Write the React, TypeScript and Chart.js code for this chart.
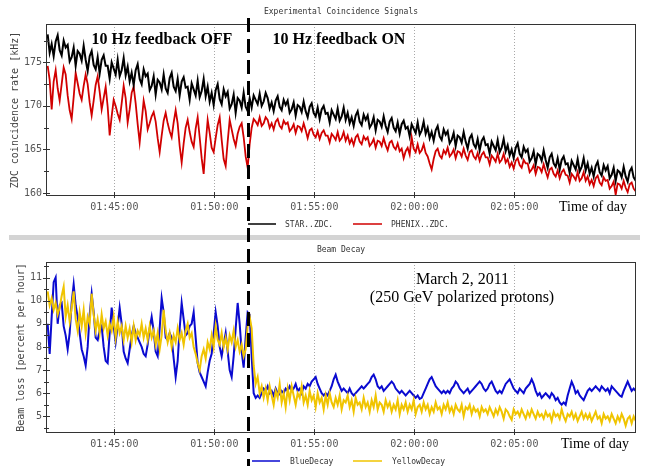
import React, { useEffect, useRef } from 'react';
import { Chart, registerables } from 'chart.js';

Chart.register(...registerables);

// ---- time axis (seconds of the day) ----
const sampleStart = 6100; // 01:41:40
const sampleStep = 6; // seconds between samples
const timeMin = 6095; // 01:41:35
const timeMax = 7865; // 02:11:05
const timeTicks = [6300, 6600, 6900, 7200, 7500];
const feedbackOnTime = 6702; // 01:51:42

// ---- top panel: Experimental Coincidence Signals [kHz] ----
const rateTicks = [160, 162.5, 165, 167.5, 170, 172.5, 175, 177.5];
const rateLabels = [160, 165, 170, 175];

const starZdc = [
  178.2, 176.1, 177.1, 175.7, 177.4, 178.1, 176.4, 175.8, 177.5, 176.7,
  177.0, 175.1, 175.6, 176.7, 174.6, 176.3, 176.0, 175.2, 176.9, 175.3,
  174.0, 175.7, 176.3, 174.7, 174.2, 175.6, 173.7, 175.3, 175.8, 174.6,
  174.6, 173.1, 175.0, 174.3, 173.6, 175.3, 173.4, 174.1, 175.5, 173.5,
  174.5, 172.8, 173.8, 172.4, 174.1, 174.8, 173.1, 172.5, 174.2, 173.4,
  173.7, 171.8, 172.3, 173.4, 171.3, 173.0, 172.7, 171.9, 173.6, 172.0,
  171.5, 173.2, 173.8, 172.2, 171.7, 173.1, 171.2, 172.8, 173.3, 172.1,
  172.2, 170.7, 172.6, 171.9, 171.2, 172.9, 171.0, 171.7, 173.1, 171.1,
  172.2, 170.5, 171.5, 170.1, 171.8, 172.5, 170.8, 170.2, 171.9, 171.1,
  171.6, 169.7, 170.2, 171.3, 169.2, 170.9, 170.6, 169.8, 171.5, 169.9,
  169.4, 170.9, 169.8, 171.2, 170.7, 170.2, 171.4, 170.0, 170.5, 171.5,
  170.9, 169.7, 170.4, 169.4, 170.6, 171.1, 169.9, 169.5, 170.7, 170.1,
  170.6, 169.2, 169.6, 170.4, 168.9, 170.1, 169.9, 169.3, 170.5, 169.4,
  168.7, 169.9, 170.3, 169.2, 168.8, 169.8, 168.5, 169.6, 170.0, 169.1,
  169.2, 168.1, 169.5, 169.0, 168.5, 169.7, 168.3, 168.8, 169.8, 168.4,
  169.2, 168.0, 168.7, 167.7, 168.9, 169.4, 168.2, 167.8, 169.0, 168.4,
  168.9, 167.5, 167.9, 168.7, 167.2, 168.4, 168.2, 167.6, 168.8, 167.7,
  167.0, 168.2, 168.6, 167.5, 167.1, 168.1, 166.8, 167.9, 168.3, 167.4,
  167.6, 166.5, 167.9, 167.4, 166.9, 168.1, 166.7, 167.2, 168.2, 166.8,
  167.5, 166.3, 167.0, 166.0, 167.2, 167.7, 166.5, 166.1, 167.3, 166.7,
  167.1, 165.7, 166.1, 166.9, 165.4, 166.6, 166.4, 165.8, 167.0, 165.9,
  165.1, 166.3, 166.7, 165.6, 165.2, 166.2, 164.9, 166.0, 166.4, 165.5,
  165.6, 164.5, 165.9, 165.4, 164.9, 166.1, 164.7, 165.2, 166.2, 164.8,
  165.5, 164.3, 165.0, 164.0, 165.2, 165.7, 164.5, 164.1, 165.3, 164.7,
  165.0, 163.6, 164.0, 164.8, 163.3, 164.5, 164.3, 163.7, 164.9, 163.8,
  162.9, 164.1, 164.5, 163.4, 163.0, 164.0, 162.7, 163.8, 164.2, 163.3,
  163.4, 162.3, 163.7, 163.2, 162.7, 163.9, 162.5, 163.0, 164.0, 162.6,
  163.4, 162.2, 162.9, 161.9, 163.1, 163.6, 162.4, 162.0, 163.2, 162.6,
  163.1, 161.7, 162.1, 162.9, 161.4, 162.6, 162.4, 161.8, 163.0, 161.9,
  161.3, 162.5, 162.9, 161.8, 161.4,
];

const phenixZdc = [
  174.6, 173.0, 169.6, 172.8, 174.1, 172.0, 170.6, 172.5, 174.4, 173.6,
  171.2, 169.5, 168.5, 171.0, 173.8, 172.6, 171.4, 170.7, 172.3, 173.6,
  172.5, 170.4, 168.9, 170.6, 172.4, 173.4, 171.6, 169.6, 170.9, 172.2,
  169.9, 166.6, 168.8, 170.7, 170.0, 169.1, 168.4, 170.3, 172.3, 170.9,
  168.1, 169.6, 171.5, 172.2, 170.3, 167.9, 165.8, 168.2, 170.6, 169.4,
  167.3, 168.0, 168.8, 169.3, 168.2, 166.3, 164.7, 166.6, 168.3, 169.2,
  168.0, 167.1, 166.4, 168.1, 169.5, 168.0, 165.4, 163.5, 165.7, 167.5,
  168.4, 167.0, 165.9, 165.3, 167.4, 168.7, 166.4, 164.0, 162.2, 165.6,
  168.4, 166.9, 165.2, 164.7, 166.3, 167.8, 168.7, 166.1, 163.9, 163.1,
  165.9, 168.4, 167.3, 166.2, 165.4, 166.8, 167.6, 168.0, 166.4, 164.2,
  162.9, 165.6, 167.5, 168.5, 168.2, 167.8, 168.7, 167.7, 168.0, 168.7,
  168.4, 167.5, 168.0, 167.3, 168.2, 168.5, 167.7, 167.4, 168.3, 167.9,
  168.1, 167.1, 167.4, 167.9, 166.9, 167.7, 167.6, 167.1, 168.0, 167.2,
  166.3, 167.2, 167.4, 166.7, 166.4, 167.1, 166.2, 166.9, 167.2, 166.6,
  166.6, 165.8, 166.8, 166.5, 166.1, 167.0, 166.0, 166.3, 167.0, 166.0,
  166.6, 165.7, 166.2, 165.5, 166.4, 166.7, 165.9, 165.6, 166.5, 166.1,
  166.4, 165.4, 165.7, 166.2, 165.2, 166.0, 165.9, 165.4, 166.3, 165.5,
  164.9, 165.8, 166.0, 165.3, 165.0, 165.7, 164.8, 165.1, 164.0, 164.8,
  165.2, 164.4, 166.4, 165.1, 164.7, 165.6, 164.6, 164.9, 165.6, 164.6,
  164.2, 163.4, 162.7, 163.9, 164.8, 165.1, 164.3, 164.0, 164.9, 164.5,
  165.2, 164.2, 164.5, 165.0, 164.0, 164.8, 164.7, 164.2, 165.1, 164.3,
  163.8, 164.7, 164.9, 164.2, 163.9, 164.6, 163.7, 164.4, 164.7, 164.1,
  164.1, 163.3, 164.3, 164.0, 163.6, 164.5, 163.5, 163.8, 164.5, 163.5,
  163.9, 163.0, 163.5, 162.8, 163.7, 164.0, 163.2, 162.9, 163.8, 163.4,
  163.4, 162.4, 162.7, 163.2, 162.2, 163.0, 162.9, 162.4, 163.3, 162.5,
  161.8, 162.7, 162.9, 162.2, 161.9, 162.6, 161.7, 162.4, 162.7, 162.1,
  162.0, 161.2, 162.2, 161.9, 161.5, 162.4, 161.4, 161.7, 162.4, 161.4,
  161.9, 161.0, 161.5, 160.8, 161.7, 162.0, 161.2, 160.9, 161.8, 161.4,
  161.5, 160.5, 160.8, 161.3, 159.8, 161.1, 161.0, 160.5, 161.4, 160.6,
  160.1, 161.0, 161.2, 160.5, 160.2,
];

// ---- bottom panel: Beam Decay [percent per hour] ----
const lossTicks = [4.5, 5, 5.5, 6, 6.5, 7, 7.5, 8, 8.5, 9, 9.5, 10, 10.5, 11, 11.5];
const lossLabels = [5, 6, 7, 8, 9, 10, 11];

const blueDecay = [
  9.0, 7.7, 9.3, 10.8, 11.0, 9.0, 9.8, 9.9, 8.9, 8.5,
  7.9, 8.6, 9.9, 10.7, 9.8, 9.3, 8.6, 7.9, 7.6, 7.2,
  8.0, 9.4, 10.3, 9.5, 8.4, 8.3, 8.7, 8.9, 8.0, 7.4,
  7.3, 8.6, 9.7, 8.9, 8.2, 8.9, 9.7, 9.0, 7.8, 7.5,
  7.3, 7.9, 8.5, 8.9, 8.6, 8.4, 8.2, 8.0, 7.7, 7.6,
  8.1, 8.8, 9.3, 8.7, 7.8, 7.6, 8.8, 10.1, 9.5, 8.4,
  8.3, 8.6, 8.4, 7.5, 6.7, 7.4, 8.8, 9.9, 9.2, 8.5,
  8.6, 8.9, 9.0, 9.5, 8.4, 7.3, 6.9, 6.7, 6.5, 6.3,
  6.9, 7.4, 7.7, 8.6, 9.5, 8.9, 8.0, 7.6, 8.1, 8.6,
  7.8, 7.0, 6.7, 7.6, 8.8, 9.9, 9.0, 7.8, 7.1, 8.4,
  9.5, 9.4, 7.6, 6.0, 5.8, 5.9, 5.8, 6.0, 6.2, 6.1,
  6.3, 6.0, 6.1, 5.9, 6.2, 6.0, 5.95, 6.1, 6.0, 6.2,
  6.1, 6.3, 6.1, 6.2, 6.4, 6.1, 6.2, 6.0, 6.3, 6.2,
  6.4, 6.3, 6.5, 6.6, 6.7, 6.4, 6.2, 6.0, 5.9, 6.0,
  5.9, 6.1, 6.3, 6.6, 6.8, 6.5, 6.3, 6.1, 6.2, 6.1,
  6.0, 6.2, 6.0, 5.9, 6.0, 6.1, 6.2, 6.3, 6.2, 6.3,
  6.4, 6.5, 6.7, 6.8, 6.6, 6.3, 6.2, 6.3, 6.1, 6.2,
  6.3, 6.4, 6.5, 6.4, 6.2, 6.1, 6.0, 6.1, 6.0, 5.9,
  6.0, 6.1, 6.0, 5.9, 5.8, 5.9, 5.75, 5.8, 6.0, 6.2,
  6.4, 6.6, 6.7, 6.5, 6.3, 6.2, 6.1, 6.0, 6.1, 6.0,
  6.1, 6.0, 6.2, 6.3, 6.5, 6.4, 6.2, 6.1, 6.0, 6.1,
  6.2, 6.0, 6.1, 6.2, 6.3, 6.4, 6.5, 6.4, 6.2, 6.1,
  6.2, 6.4, 6.5, 6.3, 6.1, 6.0, 6.1, 6.0, 6.2, 6.4,
  6.5, 6.6, 6.4, 6.2, 6.1, 6.0, 6.2, 6.1, 6.0, 6.2,
  6.3, 6.4, 6.6, 6.4, 6.1, 5.9, 6.0, 5.8, 5.9, 6.0,
  5.9, 5.8, 6.0, 5.9, 5.7, 5.8, 5.6, 5.5, 5.6, 5.5,
  5.9, 6.2, 6.5, 6.3, 6.0, 6.1, 5.9, 5.8, 5.7, 5.9,
  6.1, 6.2, 6.1, 6.2, 6.3, 6.2, 6.1, 6.3, 6.2, 6.1,
  6.2, 6.0, 6.3, 6.2, 6.1, 6.0, 5.9, 5.85, 6.1, 6.3,
  6.5, 6.3, 6.1, 6.2, 6.1,
];

const yellowDecay = [
  10.4, 9.8, 10.1, 9.6, 9.9, 9.4, 9.7, 10.2, 10.6, 9.3,
  9.8, 9.1, 9.7, 10.4, 9.2, 8.7, 9.5, 8.9, 9.6, 8.6,
  9.3, 9.0, 10.3, 9.4, 8.7, 9.2, 8.6, 9.4, 8.8, 9.1,
  8.5, 9.0, 8.7, 9.3, 8.4, 9.1, 8.6, 8.9, 8.3, 8.9,
  8.4, 8.8, 8.2, 8.9, 8.3, 8.7, 8.5, 9.0, 8.4, 8.8,
  8.3, 8.9, 8.4, 8.7, 8.1, 8.6, 7.9, 8.5, 9.6, 8.7,
  8.2, 8.6, 8.0, 8.5, 8.2, 8.8, 8.3, 8.6, 8.1, 8.7,
  9.0, 8.4, 8.6, 8.0, 7.7, 7.3, 7.0, 7.6, 7.9, 7.5,
  8.2, 7.9, 8.5, 8.0, 8.9, 8.3, 8.1, 8.6, 8.0, 8.4,
  7.9, 8.5, 8.2, 8.7, 8.0, 8.3, 7.8, 8.1, 7.6, 7.9,
  8.9, 9.3, 8.8, 7.2, 6.4, 6.7, 6.0, 6.3, 5.8, 6.2,
  5.7, 6.3, 5.9, 5.5, 6.1, 5.8, 6.4, 5.6, 6.0, 5.4,
  6.2, 5.7, 6.3, 5.9, 5.5, 6.0, 5.8, 6.3, 5.6, 5.9,
  5.5, 6.1, 5.7, 5.9, 5.4, 6.0, 5.6, 5.8, 5.3, 5.9,
  5.5, 6.0, 5.6, 5.4, 5.8, 5.5, 5.9, 5.3, 5.7, 5.6,
  5.9, 5.4, 5.7, 5.2, 5.8, 5.5, 5.6, 5.3, 5.8, 5.4,
  5.6, 5.2, 5.7, 5.4, 5.9, 5.3, 5.6, 5.5, 5.2, 5.7,
  5.4, 5.6, 5.2, 5.5, 5.3, 5.7, 5.1, 5.5, 5.3, 5.6,
  5.2, 5.5, 5.3, 5.7, 5.1, 5.4, 5.5, 5.2, 5.6, 5.3,
  5.5, 5.1, 5.4, 5.2, 5.6, 5.3, 5.4, 5.1, 5.5, 5.3,
  5.6, 5.2, 5.4, 5.1, 5.5, 5.3, 5.2, 5.5, 5.0, 5.4,
  5.3, 5.5, 5.1, 5.4, 5.2, 5.3, 5.0, 5.4, 5.2, 5.3,
  5.1, 5.4, 5.2, 5.0, 5.3, 5.1, 5.4, 5.2, 4.9, 5.3,
  5.2, 5.0, 4.85, 5.3, 5.1, 5.2, 5.0, 5.3, 5.1, 4.9,
  5.2, 5.0, 5.3, 5.1, 4.9, 5.2, 5.0, 5.1, 4.9, 5.2,
  5.0, 5.1, 4.8, 5.2, 5.0, 5.1, 4.9, 5.3, 5.0, 4.8,
  5.1, 5.0, 5.2, 4.9, 5.1, 4.8, 5.0, 5.2, 4.9, 5.1,
  4.9, 5.1, 4.8, 5.0, 5.2, 4.9, 5.0, 4.7, 5.1, 4.9,
  5.0, 4.8, 5.1, 4.9, 4.7, 5.0, 4.8, 5.1, 4.9, 4.6,
  4.9, 5.0, 4.7, 5.0, 4.8,
];

const MONO = '"DejaVu Sans Mono", monospace';
const SERIF = '"Liberation Serif", "Times New Roman", serif';

const pad2 = (n: number) => String(n).padStart(2, '0');
const fmtTime = (v: number) =>
  `${pad2(Math.floor(v / 3600))}:${pad2(Math.floor((v % 3600) / 60))}:${pad2(Math.round(v % 60))}`;

const toPoints = (vals: number[]) =>
  vals.map((y, i) => ({ x: sampleStart + i * sampleStep, y }));

function makeDecor(d: any) {
  return {
    id: 'decor',
    beforeDatasetsDraw(chart: any) {
      const { ctx, chartArea: a } = chart;
      const xs = chart.scales.x;
      ctx.save();
      ctx.strokeStyle = '#a8a8a8';
      ctx.lineWidth = 1;
      ctx.setLineDash([1, 2]);
      for (const v of timeTicks) {
        const px = Math.round(xs.getPixelForValue(v)) + 0.5;
        ctx.beginPath();
        ctx.moveTo(px, a.top);
        ctx.lineTo(px, a.bottom);
        ctx.stroke();
      }
      ctx.restore();
    },
    afterDraw(chart: any) {
      const { ctx, chartArea: a, height } = chart;
      const xs = chart.scales.x;
      const ys = chart.scales.y;
      ctx.save();
      ctx.setLineDash([]);
      // frame
      ctx.strokeStyle = '#333';
      ctx.lineWidth = 1;
      const L = Math.round(a.left), R = Math.round(a.right), T = Math.round(a.top), B = Math.round(a.bottom);
      ctx.strokeRect(L + 0.5, T + 0.5, R - L - 1, B - T - 1);
      // y ticks
      for (const t of ys.ticks) {
        const py = Math.round(ys.getPixelForValue(t.value)) + 0.5;
        const l = d.majors.includes(t.value) ? 3 : 2;
        ctx.beginPath();
        ctx.moveTo(L - l, py);
        ctx.lineTo(L + l + 1, py);
        ctx.stroke();
      }
      // x ticks
      for (const v of timeTicks) {
        const px = Math.round(xs.getPixelForValue(v)) + 0.5;
        ctx.beginPath();
        ctx.moveTo(px, B - 4);
        ctx.lineTo(px, B + 2);
        ctx.stroke();
      }
      // chart title
      ctx.fillStyle = '#333';
      ctx.font = `8px ${MONO}`;
      ctx.textAlign = 'center';
      ctx.textBaseline = 'middle';
      ctx.fillText(d.title, (a.left + a.right) / 2, d.titleY);
      // y title
      ctx.save();
      ctx.translate(d.yTitleX, (a.top + a.bottom) / 2);
      ctx.rotate(-Math.PI / 2);
      ctx.fillStyle = '#444';
      ctx.font = `10px ${MONO}`;
      ctx.fillText(d.yTitle, 0, 0);
      ctx.restore();
      // time-of-day label
      ctx.fillStyle = '#000';
      ctx.font = `14px ${SERIF}`;
      ctx.textAlign = 'left';
      ctx.textBaseline = 'alphabetic';
      ctx.fillText('Time of day', d.timeLabel.x, d.timeLabel.y);
      // notes
      for (const n of d.notes) {
        ctx.font = n.font;
        ctx.textAlign = n.align;
        ctx.fillText(n.text, n.x, n.y);
      }
      // legend
      ctx.font = `8px ${MONO}`;
      ctx.textAlign = 'left';
      ctx.textBaseline = 'middle';
      for (const it of d.legend) {
        ctx.strokeStyle = it.color;
        ctx.lineWidth = 1.5;
        ctx.beginPath();
        ctx.moveTo(it.x1, d.legendY);
        ctx.lineTo(it.x2, d.legendY);
        ctx.stroke();
        ctx.fillStyle = '#333';
        ctx.fillText(it.label, it.tx, d.legendY + 0.5);
      }
      // separator bar
      if (d.grayBar) {
        ctx.fillStyle = '#d4d4d4';
        ctx.fillRect(d.grayBar.x, d.grayBar.y, d.grayBar.w, d.grayBar.h);
      }
      // feedback switch marker
      const dx = Math.round(xs.getPixelForValue(feedbackOnTime)) + 0.5;
      ctx.strokeStyle = '#000';
      ctx.lineWidth = 3;
      ctx.setLineDash([14, 7]);
      ctx.lineDashOffset = d.dashOffset;
      ctx.beginPath();
      ctx.moveTo(dx, d.dashStart);
      ctx.lineTo(dx, height);
      ctx.stroke();
      ctx.restore();
    },
  };
}

function buildConfig(p: any) {
  return {
    type: 'line',
    data: {
      datasets: p.datasets.map((ds: any) => ({
        label: ds.label,
        data: toPoints(ds.values),
        borderColor: ds.color,
        borderWidth: ds.width,
        pointRadius: 0,
        fill: false,
        tension: 0,
      })),
    },
    options: {
      animation: false,
      responsive: false,
      maintainAspectRatio: false,
      devicePixelRatio: 1,
      events: [],
      layout: { padding: { left: 0, right: 9, top: p.padTop, bottom: 0 } },
      plugins: { legend: { display: false }, tooltip: { enabled: false }, title: { display: false } },
      scales: {
        x: {
          type: 'linear',
          min: timeMin,
          max: timeMax,
          afterBuildTicks: (s: any) => {
            s.ticks = timeTicks.map((v) => ({ value: v }));
          },
          afterFit: (s: any) => {
            s.height = p.xHeight;
          },
          grid: { display: false, drawTicks: false },
          border: { display: false },
          ticks: {
            autoSkip: false,
            maxRotation: 0,
            minRotation: 0,
            padding: 5,
            color: '#555',
            font: { family: MONO, size: 10 },
            callback: (v: number) => fmtTime(v),
          },
        },
        y: {
          type: 'linear',
          min: p.yMin,
          max: p.yMax,
          afterBuildTicks: (s: any) => {
            s.ticks = p.yTicks.map((v: number) => ({ value: v }));
          },
          afterFit: (s: any) => {
            s.width = 46;
          },
          grid: { display: false, drawTicks: false },
          border: { display: false },
          ticks: {
            autoSkip: false,
            padding: 4,
            color: '#555',
            font: { family: MONO, size: 10 },
            callback: (v: number) => (p.yLabels.includes(v) ? String(v) : ''),
          },
        },
      },
    },
    plugins: [makeDecor(p.decor)],
  };
}

function Panel({ top, height, params }: any) {
  const ref = useRef<HTMLCanvasElement>(null);
  useEffect(() => {
    const chart = new Chart(ref.current as HTMLCanvasElement, buildConfig(params) as any);
    return () => chart.destroy();
  }, []);
  return (
    <canvas
      ref={ref}
      width={645}
      height={height}
      style={{ position: 'absolute', left: 0, top, width: 645, height, display: 'block' }}
    />
  );
}

const topParams = {
  padTop: 24,
  xHeight: 44,
  yMin: 159.66,
  yMax: 179.4,
  yTicks: rateTicks,
  yLabels: rateLabels,
  datasets: [
    { label: 'STAR..ZDC.', values: starZdc, color: '#000000', width: 2 },
    { label: 'PHENIX..ZDC.', values: phenixZdc, color: '#d10000', width: 1.8 },
  ],
  decor: {
    title: 'Experimental Coincidence Signals',
    titleY: 12,
    yTitle: 'ZDC coincidence rate [kHz]',
    yTitleX: 15.5,
    majors: rateLabels,
    timeLabel: { x: 559, y: 211 },
    notes: [
      { text: '10 Hz feedback OFF', x: 91.5, y: 44, font: `bold 16px ${SERIF}`, align: 'left' },
      { text: '10 Hz feedback ON', x: 272.5, y: 44, font: `bold 16px ${SERIF}`, align: 'left' },
    ],
    legendY: 224,
    legend: [
      { label: 'STAR..ZDC.', color: '#000000', x1: 248, x2: 276, tx: 285 },
      { label: 'PHENIX..ZDC.', color: '#d10000', x1: 353, x2: 382, tx: 391 },
    ],
    grayBar: { x: 9, y: 235, w: 631, h: 5 },
    dashStart: 18,
    dashOffset: 0,
  },
};

const bottomParams = {
  padTop: 22,
  xHeight: 33,
  yMin: 4.28,
  yMax: 11.67,
  yTicks: lossTicks,
  yLabels: lossLabels,
  datasets: [
    { label: 'YellowDecay', values: yellowDecay, color: '#f0c400', width: 2 },
    { label: 'BlueDecay', values: blueDecay, color: '#0a0ad0', width: 2 },
  ],
  decor: {
    title: 'Beam Decay',
    titleY: 10,
    yTitle: 'Beam loss [percent per hour]',
    yTitleX: 21.5,
    majors: lossLabels,
    timeLabel: { x: 561, y: 208 },
    notes: [
      { text: 'March 2, 2011', x: 462.5, y: 44, font: `16px ${SERIF}`, align: 'center' },
      { text: '(250 GeV polarized protons)', x: 462, y: 62, font: `16px ${SERIF}`, align: 'center' },
    ],
    legendY: 221,
    legend: [
      { label: 'BlueDecay', color: '#0a0ad0', x1: 252, x2: 280, tx: 290 },
      { label: 'YellowDecay', color: '#f0c400', x1: 353, x2: 382, tx: 392 },
    ],
    grayBar: null,
    dashStart: 0,
    dashOffset: 222,
  },
};

export default function App() {
  return (
    <div
      style={{
        position: 'absolute',
        left: 0,
        top: 0,
        width: 645,
        height: 466,
        background: '#ffffff',
        overflow: 'hidden',
      }}
    >
      <Panel top={0} height={240} params={topParams} />
      <Panel top={240} height={226} params={bottomParams} />
    </div>
  );
}
